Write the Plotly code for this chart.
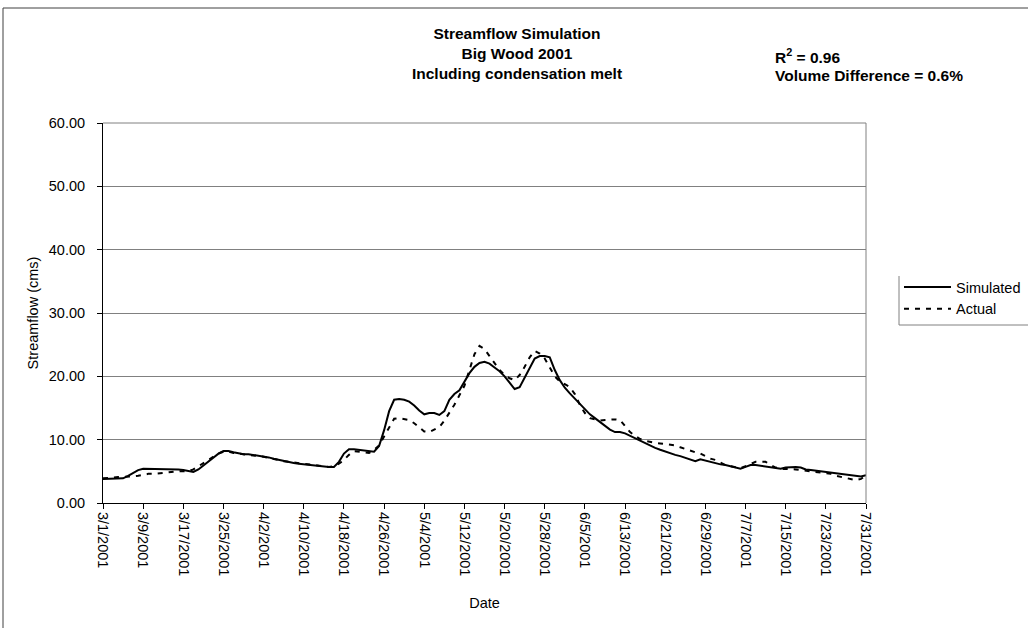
import pandas as pd
import plotly.graph_objects as go

# Daily dates 3/1/2001 .. 7/31/2001
dates = pd.date_range("2001-03-01", "2001-07-31", freq="D")

simulated = [
    3.8, 3.8, 3.8, 3.8, 3.9, 4.3, 4.8, 5.2, 5.4, 5.4,
    5.4, 5.3, 5.4, 5.4, 5.3, 5.3, 5.2, 5.0, 4.9, 5.3,
    5.9, 6.5, 7.2, 7.8, 8.2, 8.2, 8.0, 7.8, 7.7, 7.7,
    7.6, 7.5, 7.4, 7.2, 7.0, 6.8, 6.6, 6.5, 6.3, 6.2,
    6.1, 6.0, 6.0, 5.9, 5.7, 5.7, 5.7, 6.5, 7.8, 8.5,
    8.5, 8.4, 8.3, 8.1, 8.1, 9.0, 11.5, 14.5, 16.3, 16.4,
    16.3, 16.0, 15.4, 14.6, 14.0, 14.2, 14.2, 13.9, 14.5, 16.3,
    17.2, 17.8, 19.2, 20.5, 21.5, 22.1, 22.3, 22.0, 21.4, 20.8,
    20.0, 19.0, 18.0, 18.3, 19.8, 21.5, 22.8, 23.2, 23.2, 23.0,
    21.0, 19.4, 18.2, 17.3, 16.5, 15.6, 14.8, 14.0, 13.4, 12.8,
    12.2, 11.6, 11.2, 11.2, 11.0, 10.6, 10.2, 9.8, 9.4, 9.0,
    8.7, 8.4, 8.1, 7.8, 7.6, 7.4, 7.1, 6.9, 6.6, 6.9,
    6.7, 6.4, 6.2, 6.1, 6.0, 5.8, 5.5, 5.4, 5.7, 6.0,
    6.0, 5.9, 5.8, 5.6, 5.5, 5.4, 5.6, 5.7, 5.7, 5.6,
    5.3, 5.2, 5.1, 5.0, 4.9, 4.8, 4.7, 4.6, 4.5, 4.4,
    4.3, 4.2, 4.4,
]

actual = [
    3.9, 3.9, 4.0, 4.1, 4.1, 4.2, 4.2, 4.3, 4.5, 4.6,
    4.6, 4.7, 4.7, 4.8, 4.9, 5.0, 5.0, 5.0, 5.3, 5.8,
    6.3, 6.8, 7.3, 7.8, 8.1, 8.1, 7.9, 7.8, 7.7, 7.6,
    7.6, 7.5, 7.3, 7.1, 7.0, 6.8, 6.6, 6.5, 6.3, 6.2,
    6.1, 6.0, 6.0, 5.9, 5.8, 5.7, 5.8, 6.2, 6.8, 7.6,
    8.2, 8.1, 8.0, 7.9, 8.4, 9.1, 10.5, 12.0, 13.3, 13.4,
    13.2, 13.1, 12.6, 12.0, 11.3, 11.2, 11.6, 12.0, 13.0, 14.2,
    15.5, 17.0, 18.5, 21.0, 23.5, 24.8, 24.3, 23.2, 22.0, 21.0,
    20.2, 19.7, 19.4, 20.2, 21.5, 23.0, 24.0, 23.6, 22.8, 21.5,
    20.0, 19.2, 18.7, 18.3, 17.2, 15.5, 14.2, 13.4, 13.2, 13.0,
    13.1, 13.2, 13.2, 13.1, 12.2, 11.2, 10.6, 10.1, 9.8, 9.6,
    9.5, 9.4, 9.3, 9.3, 9.1, 8.8, 8.5, 8.2, 8.0, 7.8,
    7.4, 7.0, 6.8, 6.4, 6.0, 5.8, 5.6, 5.5, 5.8, 6.2,
    6.5, 6.5, 6.5, 6.0, 5.6, 5.4, 5.4, 5.4, 5.3, 5.2,
    5.1, 5.0, 5.0, 4.9, 4.8, 4.6, 4.3, 4.1, 4.0, 3.8,
    3.6, 3.8, 4.4,
]

tick_dates = ["2001-03-01", "2001-03-09", "2001-03-17", "2001-03-25", "2001-04-02",
              "2001-04-10", "2001-04-18", "2001-04-26", "2001-05-04", "2001-05-12",
              "2001-05-20", "2001-05-28", "2001-06-05", "2001-06-13", "2001-06-21",
              "2001-06-29", "2001-07-07", "2001-07-15", "2001-07-23", "2001-07-31"]
tick_labels = ["3/1/2001", "3/9/2001", "3/17/2001", "3/25/2001", "4/2/2001",
               "4/10/2001", "4/18/2001", "4/26/2001", "5/4/2001", "5/12/2001",
               "5/20/2001", "5/28/2001", "6/5/2001", "6/13/2001", "6/21/2001",
               "6/29/2001", "7/7/2001", "7/15/2001", "7/23/2001", "7/31/2001"]
y_ticks = [0, 10, 20, 30, 40, 50, 60]

FONT = "Liberation Sans, Arial, sans-serif"
W, H = 1028, 628
L, R, T, B = 103, 162, 123, 125
PW, PH = W - L - R, H - T - B


def px_x(x):
    return (x - L) / PW


def px_y(y):
    return (H - B - y) / PH


fig = go.Figure()
fig.add_trace(go.Scatter(x=dates, y=simulated, mode="lines", name="Simulated",
                         line=dict(color="black", width=2)))
fig.add_trace(go.Scatter(x=dates, y=actual, mode="lines", name="Actual",
                         line=dict(color="black", width=2, dash="5px,6px")))

fig.update_layout(
    width=W, height=H,
    margin=dict(l=L, r=R, t=T, b=B, autoexpand=False),
    paper_bgcolor="white", plot_bgcolor="white",
    font=dict(family=FONT, size=14, color="black"),
    title=dict(text="<b>Streamflow Simulation<br>Big Wood 2001<br>Including condensation melt</b>",
               x=517 / W, xanchor="center", xref="container",
               y=1 - 39 / H, yanchor="top", yref="container",
               font=dict(size=15.5, family=FONT, color="black")),
    xaxis=dict(range=["2001-03-01", "2001-07-31"], tickvals=tick_dates, ticktext=tick_labels,
               tickangle=90, ticks="outside", ticklen=5, tickcolor="black",
               tickfont=dict(size=14.5),
               showline=True, linecolor="black", linewidth=1, showgrid=False,
               zeroline=False,
               title=dict(text="Date", standoff=22, font=dict(size=14.5))),
    yaxis=dict(range=[0, 60], tickvals=y_ticks, tickformat=".2f",
               ticks="outside", ticklen=5, tickcolor="black",
               tickfont=dict(size=14.5), ticklabelstandoff=9,
               showline=True, linecolor="black", linewidth=1,
               showgrid=True, gridcolor="#808080", gridwidth=1, zeroline=False,
               title=dict(text="Streamflow (cms)", standoff=6, font=dict(size=14.5))),
    legend=dict(x=px_x(899), y=px_y(271), xanchor="left", yanchor="top",
                font=dict(size=14.5), bgcolor="rgba(0,0,0,0)", borderwidth=0,
                itemwidth=47, tracegroupgap=0),
    showlegend=True,
)

# plot area right & top border
fig.add_shape(type="line", xref="paper", yref="paper", x0=1, x1=1, y0=0, y1=1,
              line=dict(color="#808080", width=1))
fig.add_shape(type="line", xref="paper", yref="paper", x0=0, x1=1, y0=1, y1=1,
              line=dict(color="#808080", width=1))
# legend box (left & bottom visible)
fig.add_shape(type="line", xref="paper", yref="paper", x0=px_x(899), x1=px_x(899),
              y0=px_y(325), y1=px_y(276), line=dict(color="#808080", width=1))
fig.add_shape(type="line", xref="paper", yref="paper", x0=px_x(899), x1=1.25,
              y0=px_y(325), y1=px_y(325), line=dict(color="#808080", width=1))
# outer chart frame (right and bottom edges fall outside the picture)
fig.add_shape(type="rect", xref="paper", yref="paper",
              x0=px_x(3), x1=1.3, y0=-0.4, y1=px_y(8),
              line=dict(color="#404040", width=1), fillcolor="rgba(0,0,0,0)")

fig.add_annotation(text="<b>R<sup>2</sup> = 0.96</b>", xref="paper", yref="paper",
                   x=px_x(773), y=px_y(56), xanchor="left", yanchor="middle",
                   showarrow=False, font=dict(size=15.5, family=FONT))
fig.add_annotation(text="<b>Volume Difference = 0.6%</b>", xref="paper", yref="paper",
                   x=px_x(773), y=px_y(75), xanchor="left", yanchor="middle",
                   showarrow=False, font=dict(size=15.5, family=FONT))

fig.write_html("out.html", config={"displayModeBar": False},
               post_script="document.body.style.margin='0';document.body.style.padding='0';")
